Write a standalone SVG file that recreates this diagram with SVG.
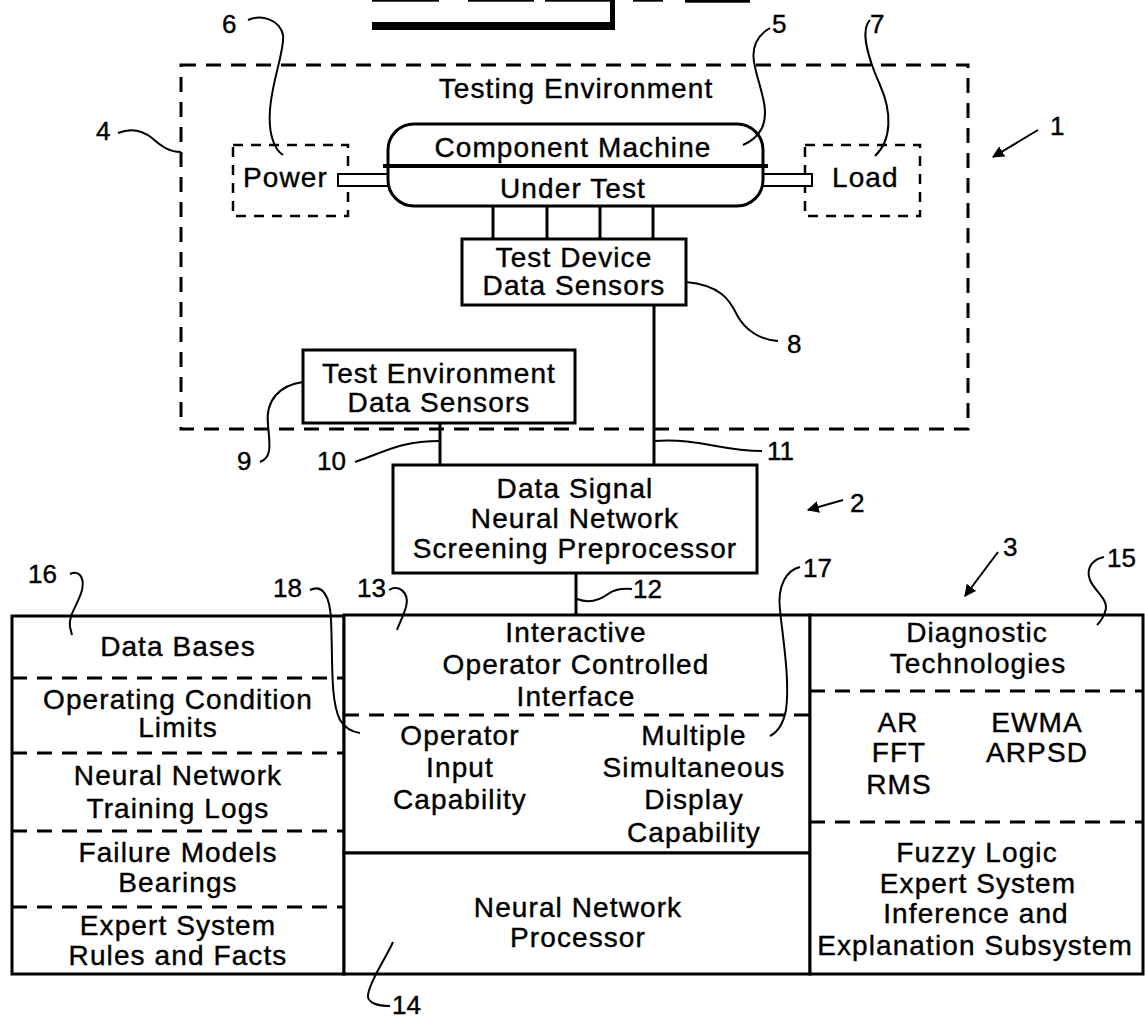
<svg xmlns="http://www.w3.org/2000/svg" width="1145" height="1019" viewBox="0 0 1145 1019">
<style>
  text { font-family: "Liberation Sans", Arial, sans-serif; fill: #000; stroke: #000; stroke-width: 0.4; }
  .t { font-size: 28px; letter-spacing: 1.1px; text-anchor: middle; }
  .tl { font-size: 28px; letter-spacing: 1.1px; }
  .n { font-size: 26px; }
  .box { fill: #fff; stroke: #000; stroke-width: 3; }
  .dash { fill: none; stroke: #000; stroke-width: 3; stroke-dasharray: 15 10; }
  .sdash { fill: none; stroke: #000; stroke-width: 2.5; stroke-dasharray: 10 8; }
  .ln { fill: none; stroke: #000; stroke-width: 3; }
  .lead { fill: none; stroke: #000; stroke-width: 2; }
</style>
<defs>
  <marker id="ah" viewBox="0 0 10 10" refX="9" refY="5" markerWidth="6" markerHeight="6" orient="auto">
    <path d="M0,0 L10,5 L0,10 z" fill="#000"/>
  </marker>
</defs>
<rect width="1145" height="1019" fill="#fff"/>

<!-- partial header at top -->
<g id="header">
  <rect x="372" y="0" width="67" height="1.7" fill="#000"/>
  <rect x="468" y="0" width="66" height="1.7" fill="#000"/>
  <rect x="545" y="0" width="67" height="1.7" fill="#000"/>
  <rect x="633" y="0" width="30" height="1.7" fill="#000"/>
  <rect x="685" y="0" width="65" height="2.7" fill="#000"/>
  <rect x="372" y="22" width="243" height="8" fill="#000"/>
  <rect x="610" y="0" width="5" height="30" fill="#000"/>
</g>

<g id="testing-environment">
  <rect class="dash" x="181" y="65" width="787" height="364"/>
  <text class="t" x="576" y="98">Testing Environment</text>
</g>

<g id="power">
  <rect class="sdash" x="233" y="145" width="115" height="71"/>
  <text class="tl" x="243" y="187">Power</text>
  <rect x="338" y="174" width="52" height="12" fill="#fff" stroke="#000" stroke-width="2"/>
</g>

<g id="load">
  <rect class="sdash" x="805" y="145" width="115" height="71"/>
  <text class="tl" x="832" y="187">Load</text>
  <rect x="760" y="174" width="52" height="12" fill="#fff" stroke="#000" stroke-width="2"/>
</g>

<g id="component-machine">
  <rect class="box" x="388" y="124" width="375" height="82" rx="26" ry="26"/>
  <line x1="383" y1="166" x2="768" y2="166" stroke="#000" stroke-width="4"/>
  <text class="t" x="573" y="157">Component Machine</text>
  <text class="t" x="573" y="198">Under Test</text>
</g>

<g id="test-device-sensors">
  <rect class="box" x="462" y="239" width="224" height="66"/>
  <text class="t" x="574" y="267">Test Device</text>
  <text class="t" x="574" y="295">Data Sensors</text>
</g>

<g id="test-env-sensors">
  <rect class="box" x="303" y="350" width="272" height="73"/>
  <text class="t" x="439" y="383">Test Environment</text>
  <text class="t" x="439" y="412">Data Sensors</text>
</g>

<g id="preprocessor">
  <rect class="box" x="393" y="465" width="364" height="108"/>
  <text class="t" x="575" y="498">Data Signal</text>
  <text class="t" x="575" y="528">Neural Network</text>
  <text class="t" x="575" y="558">Screening Preprocessor</text>
</g>

<g id="data-bases">
  <rect class="box" x="12" y="616" width="332" height="358"/>
  <line class="dash" x1="12" y1="678" x2="344" y2="678"/>
  <line class="dash" x1="12" y1="753" x2="344" y2="753"/>
  <line class="dash" x1="12" y1="831" x2="344" y2="831"/>
  <line class="dash" x1="12" y1="907" x2="344" y2="907"/>
  <text class="t" x="178" y="656">Data Bases</text>
  <text class="t" x="178" y="709">Operating Condition</text>
  <text class="t" x="178" y="737">Limits</text>
  <text class="t" x="178" y="785">Neural Network</text>
  <text class="t" x="178" y="818">Training Logs</text>
  <text class="t" x="178" y="862">Failure Models</text>
  <text class="t" x="178" y="892">Bearings</text>
  <text class="t" x="178" y="935">Expert System</text>
  <text class="t" x="178" y="965">Rules and Facts</text>
</g>

<g id="interface">
  <rect class="box" x="344" y="615" width="466" height="238"/>
  <line class="dash" x1="344" y1="715" x2="810" y2="715"/>
  <text class="t" x="576" y="642">Interactive</text>
  <text class="t" x="576" y="674">Operator Controlled</text>
  <text class="t" x="576" y="706">Interface</text>
  <text class="t" x="460" y="745">Operator</text>
  <text class="t" x="460" y="777">Input</text>
  <text class="t" x="460" y="809">Capability</text>
  <text class="t" x="694" y="745">Multiple</text>
  <text class="t" x="694" y="777">Simultaneous</text>
  <text class="t" x="694" y="809">Display</text>
  <text class="t" x="694" y="842">Capability</text>
</g>

<g id="nn-processor">
  <rect class="box" x="344" y="853" width="466" height="121"/>
  <text class="t" x="578" y="917">Neural Network</text>
  <text class="t" x="578" y="947">Processor</text>
</g>

<g id="diagnostics">
  <rect class="box" x="810" y="615" width="333" height="359"/>
  <line class="dash" x1="810" y1="691" x2="1143" y2="691"/>
  <line class="dash" x1="810" y1="822" x2="1143" y2="822"/>
  <text class="t" x="977" y="642">Diagnostic</text>
  <text class="t" x="978" y="673">Technologies</text>
  <text class="t" x="898" y="732">AR</text>
  <text class="t" x="899" y="762">FFT</text>
  <text class="t" x="899" y="794">RMS</text>
  <text class="t" x="1037" y="732">EWMA</text>
  <text class="t" x="1037" y="762">ARPSD</text>
  <text class="t" x="977" y="862">Fuzzy Logic</text>
  <text class="t" x="978" y="893">Expert System</text>
  <text class="t" x="976" y="923">Inference and</text>
  <text class="t" x="975" y="955">Explanation Subsystem</text>
</g>

<g id="connectors">
  <line class="ln" x1="493" y1="206" x2="493" y2="239"/>
  <line class="ln" x1="547" y1="206" x2="547" y2="239"/>
  <line class="ln" x1="600" y1="206" x2="600" y2="239"/>
  <line class="ln" x1="653" y1="206" x2="653" y2="239"/>
  <line class="ln" x1="654" y1="305" x2="654" y2="465"/>
  <line class="ln" x1="440" y1="423" x2="440" y2="465"/>
  <line class="ln" x1="576" y1="573" x2="576" y2="615"/>
</g>

<g id="leaders">
  <path class="lead" d="M248 20 C262 14 280 20 283 35 C285 50 272 80 270 110 C268 135 275 150 283 155"/>
  <path class="lead" d="M770 28 C758 35 750 47 755 67 C760 90 770 110 762 128 C757 138 750 142 743 145"/>
  <path class="lead" d="M870 20 C860 30 868 58 880 85 C892 112 892 140 875 156"/>
  <path class="lead" d="M118 133 C130 128 142 130 152 138 C162 147 170 152 181 152"/>
  <path class="lead" d="M686 282 C720 285 730 300 737 315 C745 330 760 340 778 341"/>
  <path class="lead" d="M303 382 C280 385 265 400 268 425 C270 445 272 458 260 462"/>
  <path class="lead" d="M355 462 C385 452 400 441 440 441"/>
  <path class="lead" d="M654 441 C700 438 720 451 762 451"/>
  <path class="lead" d="M577 599 C590 604 600 600 608 594 C615 589 622 588 632 589"/>
  <path class="lead" d="M70 574 C78 570 85 576 82 590 C78 605 68 615 70 627 L72 635"/>
  <path class="lead" d="M310 590 C322 584 330 595 331 620 C333 660 330 700 340 720 C345 728 352 732 360 733"/>
  <path class="lead" d="M389 590 C398 584 410 592 406 607 C403 617 399 624 397 630"/>
  <path class="lead" d="M800 567 C787 570 777 585 780 610 C783 640 790 680 786 710 C783 725 778 732 770 736"/>
  <path class="lead" d="M1104 557 C1094 559 1085 567 1090 580 C1095 592 1110 600 1105 612 C1103 618 1100 622 1097 625"/>
  <path class="lead" d="M393 942 C385 960 370 980 368 995 C367 1003 378 1006 390 1006"/>
  <line class="lead" x1="1038" y1="130" x2="993" y2="157" marker-end="url(#ah)" stroke-width="2.5"/>
  <line class="lead" x1="843" y1="500" x2="808" y2="510" marker-end="url(#ah)" stroke-width="2.5"/>
  <line class="lead" x1="998" y1="552" x2="965" y2="596" marker-end="url(#ah)" stroke-width="2.5"/>
</g>

<g id="labels">
  <text class="n" x="222" y="33">6</text>
  <text class="n" x="772" y="33">5</text>
  <text class="n" x="870" y="33">7</text>
  <text class="n" x="1050" y="135">1</text>
  <text class="n" x="96" y="140">4</text>
  <text class="n" x="787" y="353">8</text>
  <text class="n" x="237" y="470">9</text>
  <text class="n" x="317" y="470">10</text>
  <text class="n" x="767" y="460">11</text>
  <text class="n" x="850" y="512">2</text>
  <text class="n" x="28" y="583">16</text>
  <text class="n" x="273" y="597">18</text>
  <text class="n" x="357" y="597">13</text>
  <text class="n" x="633" y="598">12</text>
  <text class="n" x="803" y="577">17</text>
  <text class="n" x="1003" y="556">3</text>
  <text class="n" x="1107" y="567">15</text>
  <text class="n" x="392" y="1014">14</text>
</g>
</svg>
